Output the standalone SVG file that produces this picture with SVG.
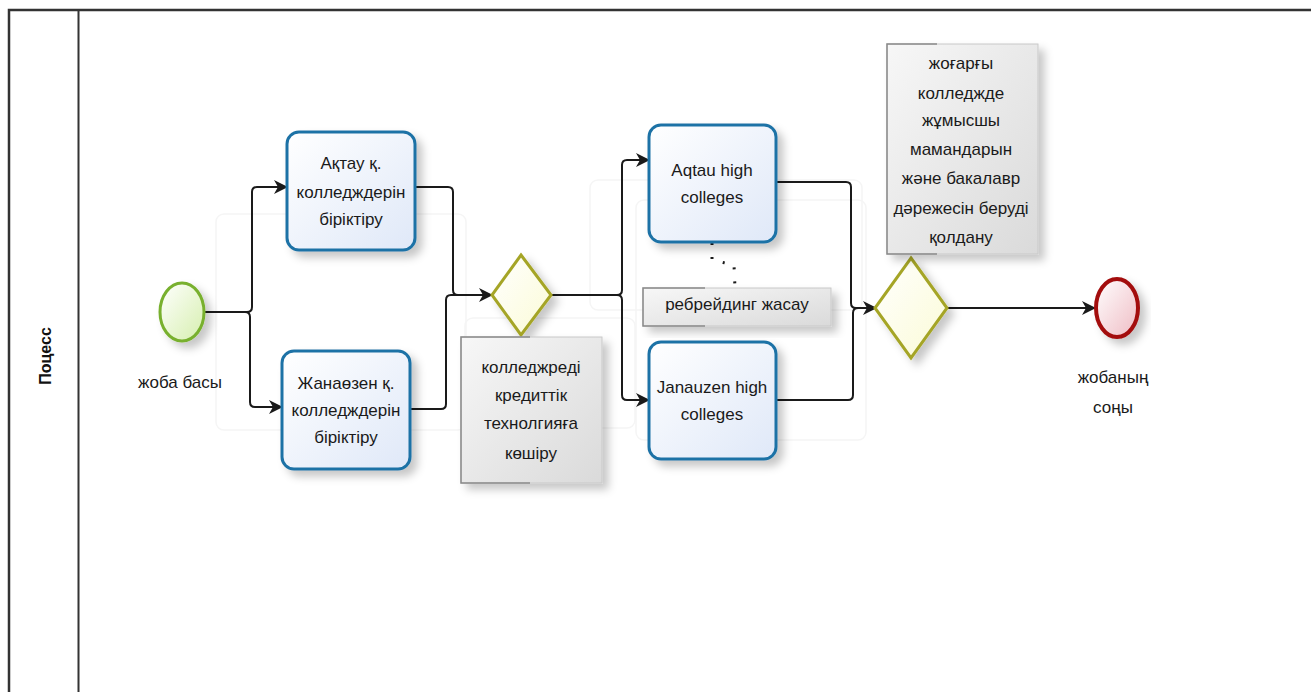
<svg xmlns="http://www.w3.org/2000/svg" width="1311" height="692" viewBox="0 0 1311 692">
<style>
.t{font-family:"Liberation Sans",Arial,sans-serif;font-size:17px;fill:#1a1a1a;text-anchor:middle}
.task{fill:url(#gTask);stroke:#1f72a6;stroke-width:3}
.gw{fill:url(#gGw);stroke:#a5a528;stroke-width:3}
.ann{fill:url(#gAnn);stroke:#c8c8c8;stroke-width:1}
.annL{fill:none;stroke:#8a8a8a;stroke-width:1.5}
.c{fill:none;stroke:#1a1a1a;stroke-width:2}
.ghost{fill:none;stroke:#f5f5f5;stroke-width:1.5}
</style>
<defs>
<linearGradient id="gTask" x1="0" y1="0" x2="1" y2="1"><stop offset="0" stop-color="#ffffff"/><stop offset="1" stop-color="#dfe8f8"/></linearGradient>
<linearGradient id="gGw" x1="0" y1="0" x2="1" y2="1"><stop offset="0" stop-color="#ffffff"/><stop offset="1" stop-color="#fbfbd6"/></linearGradient>
<linearGradient id="gAnn" x1="0" y1="0" x2="1" y2="1"><stop offset="0" stop-color="#f7f7f7"/><stop offset="1" stop-color="#dadada"/></linearGradient>
<linearGradient id="gStart" x1="0" y1="0" x2="1" y2="1"><stop offset="0" stop-color="#ffffff"/><stop offset="1" stop-color="#d6efae"/></linearGradient>
<linearGradient id="gEnd" x1="0" y1="0" x2="1" y2="1"><stop offset="0" stop-color="#ffffff"/><stop offset="1" stop-color="#efbcc4"/></linearGradient>
<filter id="sh" x="-20%" y="-20%" width="150%" height="150%"><feDropShadow dx="6" dy="6" stdDeviation="4" flood-color="#000" flood-opacity="0.22"/></filter>
<marker id="arr" viewBox="0 0 14 14" refX="13" refY="7" markerWidth="14" markerHeight="14" markerUnits="userSpaceOnUse" orient="auto"><path d="M0,0 L14,7 L0,14 L4,7 z" fill="#1a1a1a"/></marker>
</defs>
<rect width="1311" height="692" fill="#ffffff"/>
<g id="pool">
<path d="M9,692 V10 H1311" fill="none" stroke="#333" stroke-width="2.5"/>
<line x1="78.5" y1="10" x2="78.5" y2="692" stroke="#333" stroke-width="2"/>
<text transform="translate(51,356) rotate(-90)" style="font-family:'Liberation Sans',Arial,sans-serif;font-size:16px;font-weight:bold;fill:#111;text-anchor:middle">Поцесс</text>
</g>
<g id="ghosts">
<rect class="ghost" x="216" y="214" width="250" height="216" rx="8"/>
<rect class="ghost" x="590" y="180" width="272" height="130" rx="8"/>
<rect class="ghost" x="465" y="318" width="170" height="110" rx="8"/>
<rect class="ghost" x="636" y="200" width="230" height="240" rx="8"/>
</g>
<g id="connectors">
<path class="c" marker-end="url(#arr)" d="M204,312 H247 Q252,312 252,307 V192 Q252,187 257,187 H287"/>
<path class="c" marker-end="url(#arr)" d="M204,312 H245 Q250,312 250,317 V402 Q250,407 255,407 H282"/>
<path class="c" marker-end="url(#arr)" d="M415,187 H448 Q453,187 453,192 V290 Q453,295 458,295 H492"/>
<path class="c" d="M410,409 H441 Q446,409 446,404 V300 Q446,295 451,295 H470"/>
<path class="c" marker-end="url(#arr)" d="M551,295 H617 Q622,295 622,290 V165 Q622,160 627,160 H649"/>
<path class="c" marker-end="url(#arr)" d="M551,295 H617 Q622,295 622,300 V395 Q622,400 627,400 H649"/>
<path class="c" marker-end="url(#arr)" d="M776,182 H846 Q851,182 851,187 V303 Q851,308 856,308 H876"/>
<path class="c" d="M776,400 H848 Q853,400 853,395 V313 Q853,308 858,308 H866"/>
<path class="c" marker-end="url(#arr)" d="M946,308 H1095"/>
<path d="M712,243 L712,260 L734,265 L735,288" fill="none" stroke="#1a1a1a" stroke-width="3" stroke-dasharray="2 12"/>
</g>
<g id="start">
<ellipse cx="182" cy="312" rx="22" ry="29" fill="url(#gStart)" stroke="#78b02e" stroke-width="3" filter="url(#sh)"/>
<text class="t" x="180" y="388">жоба басы</text>
</g>
<g id="task1">
<rect class="task" x="287" y="132" width="128" height="118" rx="12" filter="url(#sh)"/>
<text class="t" x="351" y="169">Ақтау қ.</text>
<text class="t" x="351" y="198">колледждерін</text>
<text class="t" x="351" y="225">біріктіру</text>
</g>
<g id="task2">
<rect class="task" x="282" y="351" width="128" height="118" rx="12" filter="url(#sh)"/>
<text class="t" x="346" y="389">Жанаөзен қ.</text>
<text class="t" x="346" y="416">колледждерін</text>
<text class="t" x="346" y="443">біріктіру</text>
</g>
<g id="gateway1">
<path class="gw" d="M521,255 L551,295 L521,335 L492,295 Z" filter="url(#sh)"/>
</g>
<g id="annotation1">
<rect class="ann" x="461" y="337" width="141" height="146" filter="url(#sh)"/>
<path class="annL" d="M530,337 H461 V483 H530"/>
<text class="t" x="531" y="373">колледжреді</text>
<text class="t" x="531" y="401">кредиттік</text>
<text class="t" x="531" y="429">технолгияға</text>
<text class="t" x="531" y="459">көшіру</text>
</g>
<g id="task3">
<rect class="task" x="649" y="125" width="127" height="117" rx="12" filter="url(#sh)"/>
<text class="t" x="712" y="176">Aqtau high</text>
<text class="t" x="712" y="203">colleges</text>
</g>
<g id="task4">
<rect class="task" x="649" y="342" width="127" height="117" rx="12" filter="url(#sh)"/>
<text class="t" x="712" y="393">Janauzen high</text>
<text class="t" x="712" y="420">colleges</text>
</g>
<g id="annotation2">
<rect class="ann" x="643" y="288" width="188" height="38" filter="url(#sh)"/>
<path class="annL" d="M705,288 H643 V326 H705"/>
<text class="t" x="737" y="310">ребрейдинг жасау</text>
</g>
<g id="gateway2">
<path class="gw" d="M911,258 L947,308 L911,358 L875,308 Z" filter="url(#sh)"/>
</g>
<g id="annotation3">
<rect class="ann" x="887" y="44" width="151" height="210" filter="url(#sh)"/>
<path class="annL" d="M937,44 H887 V254 H937"/>
<text class="t" x="961" y="69">жоғарғы</text>
<text class="t" x="961" y="99">колледжде</text>
<text class="t" x="961" y="126">жұмысшы</text>
<text class="t" x="961" y="155">мамандарын</text>
<text class="t" x="961" y="184">және бакалавр</text>
<text class="t" x="961" y="214">дәрежесін беруді</text>
<text class="t" x="961" y="243">қолдану</text>
</g>
<g id="end">
<ellipse cx="1117" cy="308" rx="21" ry="29" fill="url(#gEnd)" stroke="#a30d0d" stroke-width="4" filter="url(#sh)"/>
<text class="t" x="1113" y="383">жобаның</text>
<text class="t" x="1113" y="413">соңы</text>
</g>
</svg>
